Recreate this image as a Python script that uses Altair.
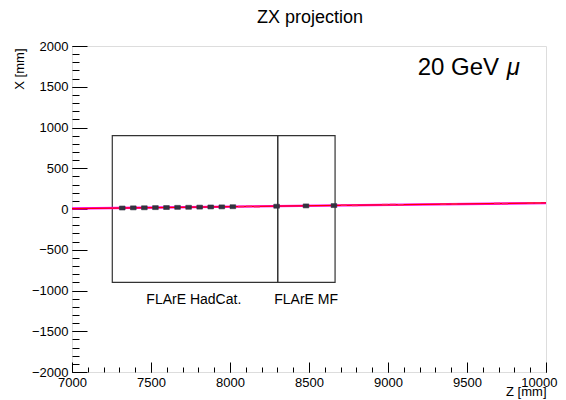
import altair as alt
import pandas as pd

# ---- data ----
track_z = [7000, 10000]
track_x_red = [5, 74]
track_x_mag = [7, 72]

hit_z = [7318, 7388, 7458, 7528, 7598, 7668, 7738, 7808, 7878, 7948, 8018, 8295, 8481, 8658]
hit_x = [12, 14, 15, 17, 18, 20, 21, 23, 25, 26, 28, 34, 38, 42]

dash_z = [8070, 8120, 8170, 8720, 8790, 8980, 9030, 9080, 9350, 9420, 9690, 9740, 9900, 9950]
dash_x = [30, 32, 28, 46, 44, 54, 55, 52, 60, 62, 68, 66, 76, 75]

box_names = ["FLArE HadCat.", "FLArE MF"]
box_z0 = [7255, 8302]
box_z1 = [8302, 8665]
box_x0 = [-900, -900]
box_x1 = [900, 900]
label_z = [7771, 8482]
label_x = [-1161, -1161]

x_major = [7000, 7500, 8000, 8500, 9000, 9500, 10000]
x_minor = list(range(7000, 10001, 100))
y_major = [-2000, -1500, -1000, -500, 0, 500, 1000, 1500, 2000]
y_minor = list(range(-2000, 2001, 100))

title_text = ["ZX projection"]

FONT = "Liberation Sans"

xs = alt.Scale(domain=[7000, 10000], nice=False, zero=False)
ys = alt.Scale(domain=[-2000, 2000], nice=False, zero=False)

boxes = pd.DataFrame({"name": box_names, "z0": box_z0, "z1": box_z1,
                      "x0": box_x0, "x1": box_x1, "lz": label_z, "lx": label_x})
track = pd.DataFrame({"z": track_z, "red": track_x_red, "mag": track_x_mag})
hits = pd.DataFrame({"z": hit_z, "x": hit_x})
dashes = pd.DataFrame({"z": dash_z, "x": dash_x})

last_label = "datum.value == 10000"

box_layer = alt.Chart(boxes).mark_rect(
    fillOpacity=0, stroke="#333333", strokeWidth=1.2
).encode(
    x=alt.X("z0:Q", scale=xs, axis=alt.Axis(
        orient="bottom", values=x_major, offset=-10, tickSize=10, domain=False,
        grid=False, format="d", labelFont=FONT, labelFontSize=13, labelColor="black",
        labelPadding=4, tickColor="black", labelFlush=False, labelOverlap=False,
        labelAlign=alt.condition(last_label, alt.value("right"), alt.value("center")),
        labelOffset=alt.condition(last_label, alt.value(11), alt.value(0)),
        title="Z [mm]", titleFont=FONT, titleFontSize=13, titleFontWeight="normal",
        titleColor="black", titleX=474, titleY=33, titleAlign="right",
        titleBaseline="alphabetic")),
    x2="z1:Q",
    y=alt.Y("x0:Q", scale=ys, axis=alt.Axis(
        orient="left", values=y_major, offset=-15, tickSize=15, domain=False,
        grid=False, format="d", labelFont=FONT, labelFontSize=13, labelColor="black",
        labelPadding=4, tickColor="black", labelFlush=False, labelOverlap=False,
        title="X [mm]", titleFont=FONT, titleFontSize=13, titleFontWeight="normal",
        titleColor="black", titleX=-68, titleY=2, titleAngle=-90, titleAlign="right",
        titleBaseline="middle")),
    y2="x1:Q",
)

mag_layer = alt.Chart(track).mark_line(color="#ff00ff", strokeWidth=2.4).encode(
    x=alt.X("z:Q", scale=xs, axis=alt.Axis(
        orient="bottom", values=x_minor, offset=-5, tickSize=5, domain=False,
        labels=False, grid=False, title=None, tickColor="black")),
    y=alt.Y("mag:Q", scale=ys, axis=alt.Axis(
        orient="left", values=y_minor, offset=-7, tickSize=7, domain=False,
        labels=False, grid=False, title=None, tickColor="black")),
)

red_layer = alt.Chart(track).mark_line(color="#ff0000", strokeWidth=1.3).encode(
    x=alt.X("z:Q", scale=xs, axis=None),
    y=alt.Y("red:Q", scale=ys, axis=None),
)

dash_layer = alt.Chart(dashes).mark_point(
    shape="M-1,0L1,0", stroke="#ff2050", strokeWidth=1.5, size=36, opacity=1
).encode(
    x=alt.X("z:Q", scale=xs, axis=None),
    y=alt.Y("x:Q", scale=ys, axis=None),
)

hit_layer = alt.Chart(hits).mark_point(
    shape="M-1,-0.7L1,-0.7L1,0.7L-1,0.7Z", filled=True, fill="#333340",
    stroke="#333340", strokeWidth=0.6, size=32, opacity=1
).encode(
    x=alt.X("z:Q", scale=xs, axis=None),
    y=alt.Y("x:Q", scale=ys, axis=None),
)

label_layer = alt.Chart(boxes).mark_text(
    font=FONT, fontSize=14, color="black", align="center", baseline="alphabetic"
).encode(
    x=alt.X("lz:Q", scale=xs, axis=None),
    y=alt.Y("lx:Q", scale=ys, axis=None),
    text="name:N",
)

ann = pd.DataFrame({"z": [9188], "x": [1640], "t": ["20 GeV"]})
ann_mu = pd.DataFrame({"z": [9752], "x": [1640], "t": ["μ"]})

ann_layer = alt.Chart(ann).mark_text(
    font=FONT, fontSize=24, color="black", align="left", baseline="alphabetic"
).encode(
    x=alt.X("z:Q", scale=xs, axis=None),
    y=alt.Y("x:Q", scale=ys, axis=None),
    text="t:N",
)
mu_layer = alt.Chart(ann_mu).mark_text(
    font=FONT, fontSize=24, fontStyle="italic", color="black", align="left",
    baseline="alphabetic"
).encode(
    x=alt.X("z:Q", scale=xs, axis=None),
    y=alt.Y("x:Q", scale=ys, axis=None),
    text="t:N",
)

title_layer = alt.Chart(pd.DataFrame({"t": title_text})).mark_text(
    font=FONT, fontSize=18, color="black", align="center", baseline="alphabetic"
).encode(
    x=alt.value(238), y=alt.value(-23), text="t:N"
)

chart = alt.layer(
    box_layer, mag_layer, red_layer, dash_layer, hit_layer, label_layer,
    ann_layer, mu_layer, title_layer
).resolve_axis(
    x="independent", y="independent"
).properties(
    width=474, height=326,
    autosize=alt.AutoSizeParams(type="none"),
    padding={"left": 64, "top": 38, "right": 12, "bottom": 28},
).configure_view(
    stroke="black", strokeWidth=1
).configure(background="white")

chart.save("out.html", embed_options={"renderer": "svg", "actions": False})
